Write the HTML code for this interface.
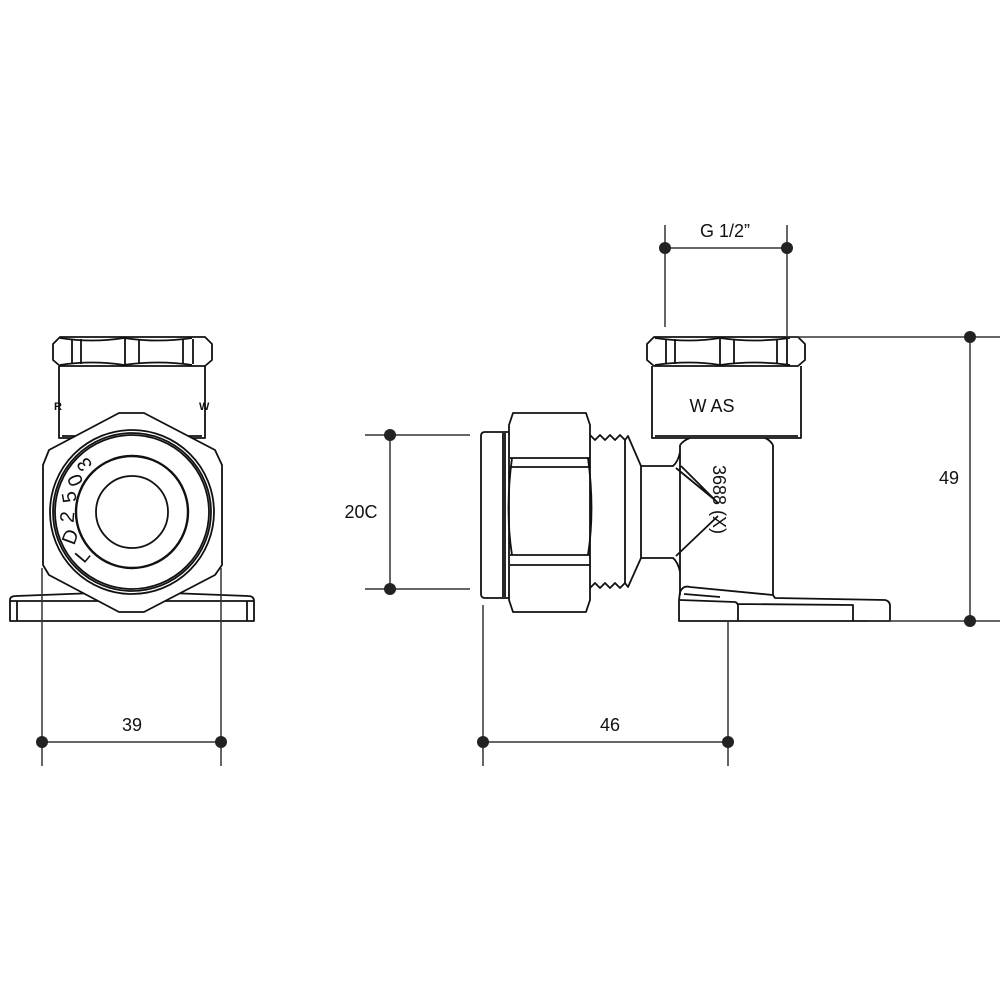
<!DOCTYPE html>
<html><head><meta charset="utf-8"><style>
html,body{margin:0;padding:0;background:#fff;}
svg{display:block;}
text{font-family:"Liberation Sans",Arial,sans-serif;fill:#111;}
</style></head><body>
<svg width="1000" height="1000" viewBox="0 0 1000 1000" xmlns="http://www.w3.org/2000/svg">
<g fill="none" stroke="#111" stroke-width="1.8" stroke-linejoin="round">
<!-- ===== LEFT VIEW ===== -->
<path d="M60,337 L205,337 L212,344 L212,360 L205,366 L60,366 L53,360 L53,344 Z"/>
<path d="M60,338 Q92,343 124,338 Q158,343 192,338 M60,365 Q92,360 124,365 Q158,360 192,365"/>
<line x1="72" y1="339" x2="72" y2="364"/><line x1="81" y1="339" x2="81" y2="364"/>
<line x1="125" y1="339" x2="125" y2="364"/><line x1="139" y1="339" x2="139" y2="364"/>
<line x1="183" y1="339" x2="183" y2="364"/><line x1="193" y1="339" x2="193" y2="364"/>
<path d="M59,366 L59,438 L205,438 L205,366"/>
<line x1="62" y1="436" x2="202" y2="436"/>
<path d="M10,600 Q10,596 16,596 L95,593 L170,593 L248,596 Q254,596 254,601 L254,621 L10,621 Z"/>
<line x1="10" y1="601" x2="254" y2="601"/>
<line x1="17" y1="601" x2="17" y2="621"/><line x1="247" y1="601" x2="247" y2="621"/>
<path d="M119,413 L144,413 L215,450 L222,465 L222,565 L215,575 L144,612 L119,612 L49,575 L43,565 L43,465 L49,450 Z" fill="#fff"/>
<circle cx="132" cy="512" r="82" fill="#fff"/>
<circle cx="132" cy="512" r="79"/>
<circle cx="132" cy="512" r="77"/>
<circle cx="132" cy="512" r="56" stroke-width="2.4"/>
<circle cx="132" cy="512" r="36"/>
<!-- ===== RIGHT VIEW ===== -->
<path d="M654,337 L798,337 L805,344 L805,360 L798,366 L654,366 L647,360 L647,344 Z"/>
<path d="M655,338 Q690,343 720,338 Q755,343 790,338 M655,365 Q690,360 720,365 Q755,360 790,365"/>
<line x1="666" y1="339" x2="666" y2="364"/><line x1="675" y1="339" x2="675" y2="364"/>
<line x1="720" y1="339" x2="720" y2="364"/><line x1="734" y1="339" x2="734" y2="364"/>
<line x1="777" y1="339" x2="777" y2="364"/><line x1="787" y1="339" x2="787" y2="364"/>
<path d="M652,366 L652,438 L801,438 L801,366"/>
<line x1="655" y1="436" x2="798" y2="436"/>
<path d="M680,445 L680,595 M773,445 L773,595 M680,445 Q684,440 690,438 M773,445 Q770,440 765,438"/>
<path d="M641,466 L673,466 Q678,462 680,452 M641,558 L673,558 Q678,562 680,572 M641,466 L641,558"/>
<path d="M676,468 L715,500 M676,556 L718,516 M681,466 L718,503"/>
<path d="M590,435 L595,440 L600,435 L605,440 L610,435 L615,440 L620,435 L625,440 L628,436 L641,466 M590,588 L595,583 L600,588 L605,583 L610,588 L615,583 L620,588 L625,583 L628,587 L641,558"/>
<line x1="625" y1="440" x2="625" y2="583"/>
<path d="M513,413 L586,413 L590,425 L590,600 L586,612 L513,612 L509,600 L509,425 Z"/>
<path d="M510,458 L590,458 M510,467 L590,467 M510,555 L590,555 M510,565 L590,565"/>
<path d="M512,458 Q505,510 512,555 M588,458 Q595,510 588,555"/>
<path d="M509,432 L485,432 Q481,432 481,436 L481,594 Q481,598 485,598 L509,598"/>
<line x1="503" y1="433" x2="503" y2="597"/><line x1="505" y1="433" x2="505" y2="597"/>
<path d="M680,592 Q683,585 690,587 L773,595 L775,598 L885,600 Q890,601 890,606 L890,621 L679,621 L679,600 Z"/>
<path d="M680,600 L735,602 Q738,603 738,606 L738,621 M738,604 L853,605 L853,621 M684,594 L720,597"/>
</g>
<g stroke="#333" stroke-width="1.5">
<line x1="42" y1="568" x2="42" y2="766"/><line x1="221" y1="568" x2="221" y2="766"/>
<line x1="42" y1="742" x2="221" y2="742"/>
<line x1="483" y1="605" x2="483" y2="766"/><line x1="728" y1="620" x2="728" y2="766"/>
<line x1="483" y1="742" x2="728" y2="742"/>
<line x1="365" y1="435" x2="470" y2="435"/><line x1="365" y1="589" x2="470" y2="589"/>
<line x1="390" y1="435" x2="390" y2="589"/>
<line x1="665" y1="225" x2="665" y2="327"/><line x1="787" y1="225" x2="787" y2="337"/>
<line x1="665" y1="248" x2="787" y2="248"/>
<line x1="787" y1="337" x2="1000" y2="337"/><line x1="868" y1="621" x2="1000" y2="621"/>
<line x1="970" y1="337" x2="970" y2="621"/>
</g>
<g fill="#222">
<circle cx="42" cy="742" r="6"/><circle cx="221" cy="742" r="6"/>
<circle cx="483" cy="742" r="6"/><circle cx="728" cy="742" r="6"/>
<circle cx="390" cy="435" r="6"/><circle cx="390" cy="589" r="6"/>
<circle cx="665" cy="248" r="6"/><circle cx="787" cy="248" r="6"/>
<circle cx="970" cy="337" r="6"/><circle cx="970" cy="621" r="6"/>
</g>
<text x="132" y="731" font-size="18" text-anchor="middle">39</text>
<text x="610" y="731" font-size="18" text-anchor="middle">46</text>
<text x="361" y="518" font-size="18" text-anchor="middle">20C</text>
<text x="949" y="484" font-size="18" text-anchor="middle">49</text>
<text x="725" y="237" font-size="18" text-anchor="middle">G 1/2”</text>
<text x="712" y="412" font-size="18" text-anchor="middle">W AS</text>
<text font-size="18" transform="translate(713,465) rotate(90)">3688 (X)</text>
<text font-size="11" font-weight="bold" x="54" y="410">R</text>
<text font-size="11" font-weight="bold" x="199" y="410">W</text>
<g font-size="20" text-anchor="middle" dominant-baseline="central">
<text transform="translate(83,556) rotate(-50)">L</text>
<text transform="translate(71,537) rotate(-70)">D</text>
<text transform="translate(68,517) rotate(-85)">2</text>
<text transform="translate(70,497) rotate(-100)">5</text>
<text transform="translate(76,480) rotate(-112)">0</text>
<text transform="translate(85,464) rotate(-125)">3</text>
</g>
</svg>
</body></html>
